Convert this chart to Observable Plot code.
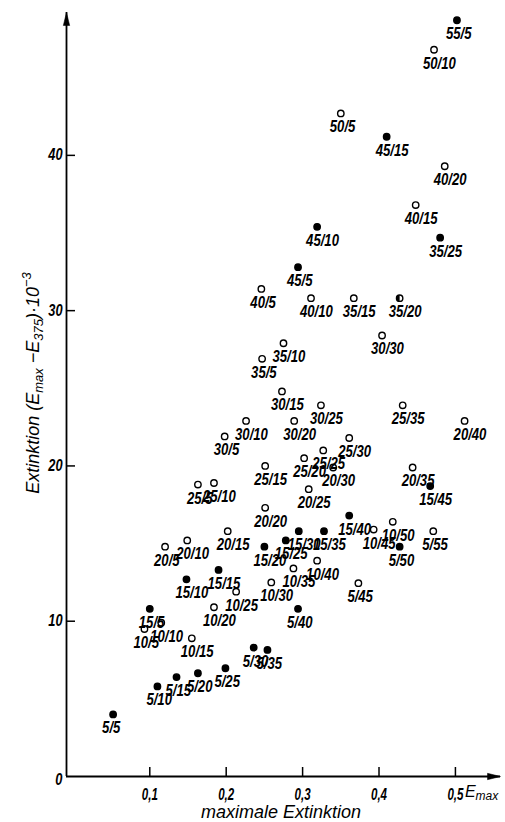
<!DOCTYPE html>
<html><head><meta charset="utf-8">
<script src="https://cdn.jsdelivr.net/npm/d3@7"></script>
<script src="https://cdn.jsdelivr.net/npm/@observablehq/plot@0.6"></script>
<style>
body{margin:0;background:#fff;}
#chart svg{display:block;}
</style></head><body><div id="chart"></div>
<script>
const labels = ["55/5","50/10","50/5","45/15","40/20","40/15","45/10","35/25","45/5","40/5","40/10","35/15","35/20","30/30","35/10","35/5","30/15","30/25","25/35","30/10","30/20","20/40","30/5","25/30","25/25","25/20","20/30","25/15","20/35","25/5","25/10","15/45","20/25","20/20","15/40","10/50","10/45","5/55","15/30","15/35","20/15","15/25","20/10","5/50","15/20","20/5","10/40","10/35","15/15","15/10","5/45","10/30","10/25","15/5","10/20","5/40","10/10","10/5","10/15","5/30","5/35","5/25","5/20","5/15","5/10","5/5"];
const xValues = [0.502,0.472,0.350,0.410,0.486,0.448,0.319,0.480,0.294,0.246,0.311,0.367,0.427,0.404,0.275,0.247,0.273,0.324,0.431,0.226,0.289,0.512,0.198,0.361,0.327,0.302,0.340,0.251,0.444,0.163,0.184,0.467,0.308,0.251,0.361,0.418,0.393,0.471,0.295,0.328,0.202,0.278,0.149,0.427,0.250,0.120,0.319,0.288,0.190,0.148,0.373,0.259,0.213,0.100,0.184,0.294,0.115,0.093,0.155,0.236,0.254,0.199,0.163,0.135,0.110,0.052];
const yValues = [48.7,46.8,42.7,41.2,39.3,36.8,35.4,34.7,32.8,31.4,30.8,30.8,30.8,28.4,27.9,26.9,24.8,23.9,23.9,22.9,22.9,22.9,21.9,21.8,21.0,20.5,19.9,20.0,19.9,18.8,18.9,18.7,18.5,17.3,16.8,16.4,15.9,15.8,15.8,15.8,15.8,15.2,15.2,14.8,14.8,14.8,13.9,13.4,13.3,12.7,12.45,12.5,11.9,10.8,10.9,10.8,9.9,9.5,8.9,8.3,8.15,6.97,6.65,6.4,5.8,4.0];
const kinds = ["filled","open","open","filled","open","open","filled","filled","filled","open","open","open","half","open","open","open","open","open","open","open","open","open","open","open","open","open","open","open","open","open","open","filled","open","open","filled","open","open","open","filled","filled","open","filled","open","filled","filled","open","open","open","filled","filled","open","open","open","filled","open","filled","open","open","open","filled","filled","filled","filled","filled","filled","filled"];
const xTicks = [0.1,0.2,0.3,0.4,0.5];
const yTicks = [10,20,30,40];
const originLabel = ["0"];
const xDomain = [-0.009, 0.559];
const yDomain = [0, 49.2];

const data = labels.map((label,i)=>({label, x:xValues[i], y:yValues[i], kind:kinds[i]}));
const font = '"Liberation Sans",Arial,sans-serif';
const arrowHead = {draw(ctx){ctx.moveTo(0,0);ctx.lineTo(-3.2,13);ctx.lineTo(3.2,13);ctx.closePath();}};
const leftHalf = {draw(ctx){const r=3.2;ctx.moveTo(0,-r);ctx.arc(0,0,r,-Math.PI/2,Math.PI/2,true);ctx.closePath();}};

const plot = Plot.plot({
  width:505, height:822, marginLeft:66, marginRight:5, marginTop:12, marginBottom:46,
  x:{domain:xDomain}, y:{domain:yDomain},
  style:{fontFamily:font, fontStyle:"italic", fontWeight:"bold", fontSize:"16px", color:"black", background:"white"},
  marks:[
    Plot.ruleY([0], {stroke:"black", strokeWidth:1.8}),
    Plot.ruleX([xDomain[0]], {stroke:"black", strokeWidth:1.8}),
    Plot.dot([{x:xDomain[1], y:0}], {x:"x", y:"y", symbol:arrowHead, rotate:90, fill:"black", stroke:"black", strokeWidth:0.5}),
    Plot.dot([{x:xDomain[0], y:yDomain[1]}], {x:"x", y:"y", symbol:arrowHead, fill:"black", stroke:"black", strokeWidth:0.5}),
    Plot.axisX({ticks:xTicks, tickSize:-9, tickPadding:20, tickFormat:d=>String(d).replace(".", ","), label:null, strokeWidth:1.5, fontSize:17, className:"xtick"}),
    Plot.axisY({ticks:yTicks, tickSize:-9, tickPadding:13, tickFormat:d=>String(d), label:null, strokeWidth:1.5, fontSize:16, className:"ytick"}),
    Plot.text(originLabel, {x:xDomain[0], y:0, text:d=>d, textAnchor:"end", lineAnchor:"middle", dx:-4, dy:3, fontSize:16, className:"ytick"}),
    Plot.dot(data, {x:"x", y:"y", r:3.2, fill:d=>d.kind==="filled"?"black":"white", stroke:"black", strokeWidth:1.4}),
    Plot.dot(data.filter(d=>d.kind==="half"), {x:"x", y:"y", symbol:leftHalf, fill:"black", stroke:null}),
    Plot.text(data, {x:"x", y:"y", text:"label", textAnchor:"start", lineAnchor:"bottom", dx:-11, dy:19, fontSize:16, className:"ptlabel"})
  ]
});
document.getElementById("chart").appendChild(plot);

const svg = d3.select(plot);
function compress(sel, f){
  sel.each(function(){
    const w = this.getComputedTextLength();
    if (w > 0) { this.setAttribute("textLength", (w*f).toFixed(2)); this.setAttribute("lengthAdjust","spacingAndGlyphs"); }
  });
}
compress(svg.selectAll(".ptlabel text"), 0.82);
compress(svg.selectAll(".xtick text"), 0.68);
compress(svg.selectAll(".ytick text"), 0.8);

const xs = plot.scale("x"), ys = plot.scale("y");
function addText(g, parts){
  parts.forEach(p=>{
    const t = g.append("tspan").text(p.t);
    if (p.fs) t.attr("font-size", p.fs);
    if (p.dy) t.attr("dy", p.dy);
  });
}
// y title
const yt = svg.append("text")
  .attr("transform", `translate(38.5,383)rotate(-90)`)
  .attr("text-anchor","middle").attr("font-size",18).attr("font-weight","normal").attr("fill","black");
addText(yt, [{t:"Extinktion (E"},{t:"max",fs:13,dy:4},{t:" −E",dy:-4},{t:"375",fs:13,dy:4},{t:")·10",dy:-4},{t:"−3",fs:13,dy:-8}]);
// x title
svg.append("text").attr("x", 281).attr("y", 818)
  .attr("text-anchor","middle").attr("font-size",18).attr("font-weight","normal").attr("fill","black").text("maximale Extinktion");
// E_max beside 0,5
const em = svg.append("text").attr("x", xs.apply(0.5)+10).attr("y", ys.apply(0)+21)
  .attr("text-anchor","start").attr("font-size",16).attr("font-weight","normal").attr("fill","black");
addText(em, [{t:"E"},{t:"max",fs:12,dy:3}]);
</script></body></html>
